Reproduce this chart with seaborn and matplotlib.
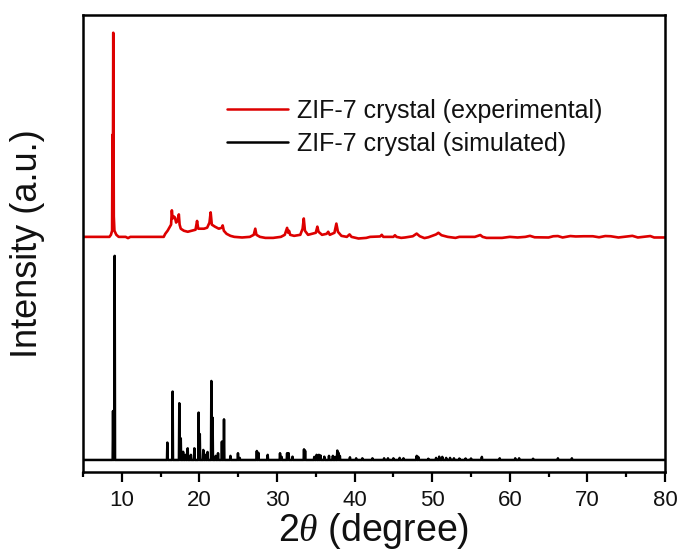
import numpy as np
import pandas as pd
import matplotlib
matplotlib.use("Agg")
import matplotlib.pyplot as plt
import seaborn as sns
from matplotlib.ticker import MultipleLocator

# ---------------- data ----------------
# Experimental pattern: 2theta and intensity relative to its own baseline (main peak = 100)
exp_2theta = [5.0, 8.4, 8.6, 8.75, 8.80, 8.85, 8.90, 8.97, 9.05, 9.3, 9.6, 10.5, 10.8, 11.1,
              15.4, 15.6, 15.9, 16.2, 16.35, 16.45, 16.55, 16.7, 16.85, 17.0, 17.2, 17.35, 17.45,
              17.6, 18.0, 18.5, 19.0, 19.5, 19.7, 19.85, 20.2, 20.6, 21.0, 21.3, 21.45, 21.6,
              22.0, 22.5, 22.9, 23.0, 23.15, 23.5, 24.0, 24.5, 25.5, 26.5, 27.0, 27.2, 27.35,
              27.8, 28.5, 29.5, 30.5, 31.0, 31.3, 31.45, 31.55, 31.7, 32.2, 33.0, 33.3, 33.45,
              33.6, 34.0, 34.5, 35.0, 35.2, 35.35, 35.8, 36.4, 36.6, 36.8, 37.4, 37.65, 37.85,
              38.3, 39.0, 39.35, 39.6, 40.5, 41.5, 42.0, 43.3, 43.5, 43.7, 45.0, 45.2, 45.4,
              46.0, 46.5, 47.5, 48.0, 48.4, 49.0, 49.5, 50.5, 50.8, 51.2, 52.0, 53.0, 53.5,
              55.5, 56.2, 56.5, 57.0, 59.0, 60.0, 61.0, 62.0, 62.6, 63.2, 65.0, 65.6, 66.2,
              66.8, 67.8, 68.5, 69.5, 70.7, 71.5, 72.3, 73.0, 74.0, 75.8, 76.5, 78.1, 78.6, 80.0]
exp_int = [0.0, 0.0, 1.0, 3.0, 50.0, 20.0, 100.0, 10.0, 3.0, 1.0, 0.0, 0.0, -0.6, 0.0,
           0.0, 1.5, 3.0, 5.0, 6.0, 13.0, 9.0, 10.0, 9.5, 7.0, 8.0, 11.0, 6.0,
           4.0, 3.0, 2.5, 3.0, 3.5, 7.8, 4.0, 4.0, 4.0, 4.5, 7.0, 12.0, 6.0,
           5.0, 4.0, 4.5, 5.6, 3.0, 1.5, 0.5, 0.0, -0.3, 0.0, 1.0, 4.0, 1.0,
           0.0, -0.5, -0.5, 0.0, 1.0, 4.4, 2.0, 3.0, 1.0, 0.5, 1.0, 4.0, 9.0,
           3.0, 1.0, 1.5, 2.0, 5.0, 2.5, 1.0, 1.5, 2.5, 1.0, 2.0, 6.5, 2.5,
           0.5, 0.0, 1.2, 0.0, -0.8, -0.5, 0.0, 0.2, 1.0, 0.0, 0.0, 0.8, 0.0,
           -0.5, -0.3, 0.3, 1.6, 0.3, -0.6, -0.2, 1.2, 2.0, 0.8, 0.0, -0.5, 0.0,
           0.0, 0.9, 0.0, -0.5, -0.5, 0.0, -0.3, 0.0, 0.5, -0.2, -0.3, 0.3, 0.4,
           -0.3, 0.4, 0.2, 0.3, 0.3, -0.2, 0.4, 0.3, -0.3, 0.5, -0.3, 0.4, -0.3, -0.3]

# Simulated pattern: reflection positions (2theta) and relative heights (main peak = 100)
sim_pos = [8.87, 9.08, 15.87, 16.55, 17.41, 17.6, 17.9, 18.2, 18.49, 18.9, 19.35, 19.9, 20.05,
           20.5, 20.8, 21.05, 21.54, 21.7, 22.1, 22.4, 22.9, 23.17, 24.0, 24.97, 25.2, 27.4,
           27.6, 28.8, 30.39, 30.6, 31.3, 31.5, 32.0, 33.48, 33.62, 34.8, 35.1, 35.4, 35.6,
           36.1, 36.7, 37.2, 37.5, 37.77, 37.92, 38.1, 39.4, 40.2, 41.0, 42.3, 43.8, 44.3,
           45.0, 45.8, 46.3, 48.0, 48.2, 49.5, 50.5, 50.9, 51.3, 51.8, 52.3, 52.8, 53.5,
           54.3, 55.0, 56.4, 58.7, 60.7, 61.2, 63.0, 66.2, 68.0]
sim_int = [24.0, 100.0, 8.5, 33.5, 27.8, 10.6, 4.0, 2.5, 5.7, 2.5, 5.7, 23.2, 12.7,
           4.9, 2.5, 3.9, 38.7, 20.7, 2.0, 3.3, 9.0, 19.9, 2.0, 3.3, 1.0, 4.4,
           3.5, 2.5, 3.3, 1.5, 3.3, 3.3, 1.6, 5.2, 4.5, 1.5, 2.5, 2.5, 2.2,
           1.6, 2.0, 2.0, 1.5, 4.6, 3.5, 2.0, 1.3, 0.8, 0.8, 0.8, 0.8, 0.8,
           0.8, 1.0, 0.8, 2.0, 1.5, 0.6, 1.0, 1.6, 1.5, 1.0, 1.0, 0.8, 0.7,
           0.7, 0.7, 1.5, 0.8, 0.8, 0.8, 0.6, 0.8, 0.8]

exp_offset = 109.3
labels = ["ZIF-7 crystal (experimental)", "ZIF-7 crystal (simulated)"]
x_range = (5, 80)

# ---------------- build line data ----------------
hw = 0.05
sx, sy = [x_range[0]], [0.0]
for p, h in zip(sim_pos, sim_int):
    sx += [p - hw, p, p + hw]
    sy += [0.0, h, 0.0]
sx.append(x_range[1]); sy.append(0.0)

df_exp = pd.DataFrame({"x": exp_2theta, "y": np.array(exp_int) + exp_offset})
df_sim = pd.DataFrame({"x": sx, "y": sy})

# ---------------- style ----------------
sns.set_theme(style="ticks")
plt.rcParams["font.family"] = ["Liberation Sans", "DejaVu Sans"]
plt.rcParams["mathtext.fontset"] = "custom"
plt.rcParams["mathtext.it"] = "Liberation Serif:italic"
plt.rcParams["mathtext.rm"] = "Liberation Sans"

fig = plt.figure(figsize=(6.83, 5.57), dpi=100)
ax = fig.add_axes([83 / 683, 1 - 472 / 557, (665 - 83) / 683, (472 - 15) / 557])

sns.lineplot(data=df_exp, x="x", y="y", ax=ax, color="#dd0000", lw=1.9,
             sort=False, estimator=None, label=labels[0])
sns.lineplot(data=df_sim, x="x", y="y", ax=ax, color="black", lw=1.8,
             sort=False, estimator=None, label=labels[1])

ax.set_xlim(*x_range)
ax.set_ylim(-5.9, 218)
ax.xaxis.set_major_locator(MultipleLocator(10))
ax.xaxis.set_minor_locator(MultipleLocator(5))
ax.set_xticks([10, 20, 30, 40, 50, 60, 70, 80])
ax.set_yticks([])
ax.tick_params(axis="x", which="major", direction="out", length=7, width=1.6,
               labelsize=16, pad=6, color="black", labelcolor="#111111")
ax.tick_params(axis="x", which="minor", direction="out", length=3.5, width=1.6, color="black")
ax.tick_params(axis="y", left=False, labelleft=False)
for s in ax.spines.values():
    s.set_linewidth(1.8)
    s.set_color("black")
    s.set_visible(True)

ax.set_xlabel(r"2$\theta$ (degree)", fontsize=27, labelpad=0, color="#111111")
ax.set_ylabel("Intensity (a.u.)", fontsize=26, labelpad=27, color="#111111")

leg = ax.legend(loc="center left", bbox_to_anchor=(0.247, 0.754), frameon=False,
                fontsize=18, handlelength=2.45, handletextpad=0.35, labelspacing=0.35,
                borderpad=0, borderaxespad=0)
for line in leg.get_lines():
    line.set_linewidth(1.8)
for t in leg.get_texts():
    t.set_color("#111111")

fig.savefig("out.png", dpi=100)
